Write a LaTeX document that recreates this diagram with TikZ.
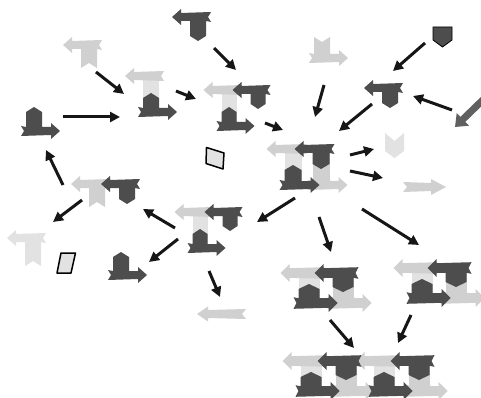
\documentclass[tikz,border=0pt]{standalone}
\usetikzlibrary{arrows.meta}
\definecolor{dk}{HTML}{4D4D4D}
\definecolor{lt}{HTML}{CFD0CF}
\definecolor{pl}{HTML}{E2E2E2}
\definecolor{ar}{HTML}{161616}
\definecolor{gr}{HTML}{606060}
\def\W{8}
\def\L{22}
\def\T{4}
\def\H{8}
\newcommand\BarOnly[1]{\fill[#1] (-\W-18,0) -- (-\W-9,-\H) -- (-\W-9,-\T) -- (\W+5,-\T-1) -- (\W+2,0) -- (\W+5,\T+1) -- (-\W-9,\T) -- (-\W-9,\H) -- cycle;}
\newcommand\PieceA[1]{\fill[#1] (-\W-18,0) -- (-\W-9,-\H) -- (-\W-9,-\T) -- (\W+5,-\T-1) -- (\W+2,0) -- (\W+5,\T+1) -- (\W,\T) -- (\W,\L-5) -- (0,\L) -- (-\W,\L-5) -- (-\W,\T) -- (-\W-9,\T) -- (-\W-9,\H) -- cycle;}
\newcommand\PieceB[1]{\fill[#1] (-\W-18,0) -- (-\W-9,-\H) -- (-\W-9,-\T) -- (\W+5,-\T-1) -- (\W+2,0) -- (\W+5,\T+1) -- (\W,\T) -- (\W,\L) -- (0,\L-5) -- (-\W,\L) -- (-\W,\T) -- (-\W-9,\T) -- (-\W-9,\H) -- cycle;}
\tikzset{
  stemw/.code={\def\W{#1}},
  stemlen/.code={\def\L{#1}},
  barhw/.code={\def\T{#1}},
  headhw/.code={\def\H{#1}},
  pics/pA/.style={code={\PieceA{dk}}},
  pics/pB/.style={code={\PieceB{#1}}}, pics/pB/.default=lt,
  pics/pC/.style={code={\begin{scope}[rotate=180]\PieceA{dk}\end{scope}}},
  pics/pD/.style={code={\begin{scope}[rotate=180]\PieceB{#1}\end{scope}}}, pics/pD/.default=lt,
  pics/tbar/.style={code={\BarOnly{#1}}}, pics/tbar/.default=lt,
  pics/bbar/.style={code={\begin{scope}[rotate=180]\BarOnly{#1}\end{scope}}}, pics/bbar/.default=lt,
  conn/.style={draw=ar, line width=3pt, -{Triangle[length=10pt,width=10pt]}},
  frame/.style={draw=black, line width=1.5pt, fill=pl, line join=round}
}
% light parts of a two-column glyph: x1, ytop, dx, S, full
\newcommand\TCl[5]{%
  \fill[pl] (#1-\W,#2) rectangle (#1+\W,#2+#4);
  \ifnum#5=1
    \fill[lt] (#1+#3-\W,#2) rectangle (#1+#3+\W,#2+#4);
    \pic at (#1+#3,#2+#4) {bbar};
  \fi
  \pic at (#1,#2) {tbar};
}
% dark parts: x1, ytop, dx, S
\newcommand\TCd[4]{%
  \pic at (#1+#3,#2) {pA};
  \pic at (#1,#2+#4) {pC};
}
\begin{document}
\begin{tikzpicture}[x=1pt,y=-1pt]
\fill[white] (0,0) rectangle (481,398);
\useasboundingbox (0,0) rectangle (481,398);
\clip (0,0) rectangle (481,398);

% single glyphs
\pic[stemlen=24] at (198,17) {pA};
\pic[stemlen=23] at (89,45) {pB=lt};
\pic[stemlen=21] at (322,58) {pD=lt};
\pic[stemlen=20] at (390,88) {pA};
\pic[stemlen=24] at (34,131) {pC};
\pic[stemlen=23] at (97,184) {pB=lt};
\pic[stemlen=20] at (127,184) {pA};
\pic[stemlen=28] at (33,238) {pB=pl};
\pic[stemlen=23] at (121,275) {pC};

% one-column glyph
\begin{scope}[stemw=8,stemlen=19]
  \fill[pl] (151-\W,76) rectangle (151+\W,112);
  \pic at (151,76) {tbar};
  \pic at (151,112) {pC};
\end{scope}

% partial two-column glyphs
\begin{scope}[stemw=7.5,stemlen=19]
  \TCl{229}{90}{29}{36}{0}
  \TCd{229}{90}{29}{36}
  \TCl{200}{212}{30}{36}{0}
  \TCd{200}{212}{30}{36}
\end{scope}

% central two-column glyph
\begin{scope}[stemw=8.5,stemlen=20]
  \TCl{293}{149}{28}{36}{1}
  \TCd{293}{149}{28}{36}
\end{scope}

% lower glyphs
\begin{scope}[stemw=10.5,stemlen=19,barhw=4.8,headhw=9]
  \TCl{309}{273}{34}{30}{1}
  \TCd{309}{273}{34}{30}
  \TCl{422}{268}{34}{30}{1}
  \TCd{422}{268}{34}{30}
  \TCl{311}{361}{35}{30}{1}
  \TCl{384}{361}{35}{30}{1}
  \TCd{311}{361}{35}{30}
  \TCd{384}{361}{35}{30}
\end{scope}

% loose bars and marks
\fill[lt] (403,182) -- (431,183) -- (431,179) -- (446,187) -- (431,195) -- (431,191) -- (403,192) -- (407,187) -- cycle;
\fill[lt] (197,314) -- (208,306.5) -- (208,310) -- (246,309) -- (242,314) -- (246,319) -- (208,318) -- (208,321.5) -- cycle;
\fill[pl] (385,133) -- (394.5,141) -- (404,133) -- (404,151) -- (394.5,158) -- (385,151) -- cycle;
\draw[fill=dk, draw=black, line width=0.8pt] (433,27) -- (452,27) -- (452,40) -- (442.5,47) -- (433,40) -- cycle;
\draw[frame] (206.5,147.5) -- (224,153) -- (223,169) -- (206,163.5) -- cycle;
\draw[frame] (61,253) -- (75.5,253) -- (71,273) -- (57,273) -- cycle;

% grey block arrow at the right edge
\coordinate (gs) at (490,93);
\coordinate (ge) at (455,127);
\draw[draw=gr, line width=7pt, -{Triangle[length=11pt,width=17pt]}] (gs) -- (ge);

% connectors
\foreach \n/\sx/\sy/\ex/\ey in {
  1/214/48/236/70, 2/96/72/124/94, 3/176/91/196/99, 4/63/117/120/117,
  5/63/185/46/150, 6/425/43/393/71, 7/324/85/315/117, 8/372/104/339/131,
  9/452/110/413/96, 10/265/123/283/130, 11/350/155/374/149, 12/350/171/383/178,
  13/82/200/53/222, 14/175/228/143/209, 15/178/239/149/262, 16/209/271/220/297,
  17/295/198/257/222, 18/319/217/331/252, 19/362/209/419/245, 20/330/320/354/348,
  21/411/315/398/343}{
  \coordinate (s\n) at (\sx,\sy);
  \coordinate (e\n) at (\ex,\ey);
  \draw[conn] (s\n) -- (e\n);
}
\end{tikzpicture}
\end{document}
